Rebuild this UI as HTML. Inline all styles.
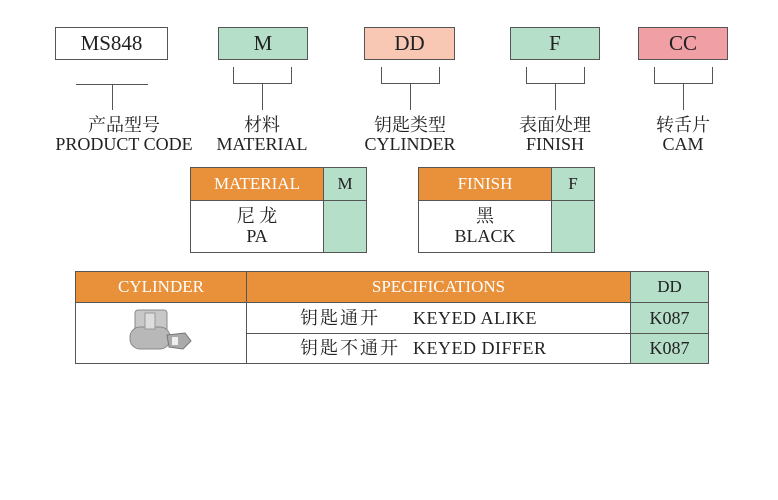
<!DOCTYPE html>
<html><head><meta charset="utf-8"><style>
body{margin:0;width:778px;height:500px;background:#fff;position:relative;overflow:hidden;font-family:"Liberation Serif","Noto Serif CJK SC",serif;color:#222}
.a{position:absolute;box-sizing:border-box}
.box{border:1px solid #555;font-size:21px;text-align:center;line-height:31px}
.ln{position:absolute;background:#555}
.lab{position:absolute;text-align:center;font-size:18px;line-height:19px;width:160px}
.oh{background:#e8913a;color:#fff;font-size:17px;text-align:center}
.g{background:#b5dfc8}
.cell{border:1px solid #555}
</style></head><body>
<div class="a box" style="left:55px;top:27px;width:113px;height:33px">MS848</div>
<div class="a box g" style="left:218px;top:27px;width:90px;height:33px">M</div>
<div class="a box" style="left:364px;top:27px;width:91px;height:33px;background:#f8c8b5">DD</div>
<div class="a box g" style="left:510px;top:27px;width:90px;height:33px">F</div>
<div class="a box" style="left:638px;top:27px;width:90px;height:33px;background:#f0a0a5">CC</div>

<div class="ln" style="left:76px;top:84px;width:72px;height:1px"></div>
<div class="ln" style="left:112px;top:84px;width:1px;height:26px"></div>

<div class="ln" style="left:233px;top:67px;width:1px;height:17px"></div>
<div class="ln" style="left:291px;top:67px;width:1px;height:17px"></div>
<div class="ln" style="left:233px;top:83px;width:59px;height:1px"></div>
<div class="ln" style="left:262px;top:83px;width:1px;height:27px"></div>

<div class="ln" style="left:381px;top:67px;width:1px;height:17px"></div>
<div class="ln" style="left:439px;top:67px;width:1px;height:17px"></div>
<div class="ln" style="left:381px;top:83px;width:59px;height:1px"></div>
<div class="ln" style="left:410px;top:83px;width:1px;height:27px"></div>

<div class="ln" style="left:526px;top:67px;width:1px;height:17px"></div>
<div class="ln" style="left:584px;top:67px;width:1px;height:17px"></div>
<div class="ln" style="left:526px;top:83px;width:59px;height:1px"></div>
<div class="ln" style="left:555px;top:83px;width:1px;height:27px"></div>

<div class="ln" style="left:654px;top:67px;width:1px;height:17px"></div>
<div class="ln" style="left:712px;top:67px;width:1px;height:17px"></div>
<div class="ln" style="left:654px;top:83px;width:59px;height:1px"></div>
<div class="ln" style="left:683px;top:83px;width:1px;height:27px"></div>

<div class="lab" style="left:44px;top:116px">产品型号<br>PRODUCT CODE</div>
<div class="lab" style="left:182px;top:116px">材料<br>MATERIAL</div>
<div class="lab" style="left:330px;top:116px">钥匙类型<br>CYLINDER</div>
<div class="lab" style="left:475px;top:116px">表面处理<br>FINISH</div>
<div class="lab" style="left:603px;top:116px">转舌片<br>CAM</div>

<div class="a cell" style="left:190px;top:167px;width:177px;height:86px"></div>
<div class="a oh" style="left:191px;top:168px;width:132px;height:32px;line-height:32px">MATERIAL</div>
<div class="a g" style="left:323px;top:168px;width:43px;height:84px;border-left:1px solid #555;text-align:center;font-size:17px;line-height:32px">M</div>
<div class="ln" style="left:190px;top:200px;width:177px;height:1px"></div>
<div class="a" style="left:191px;top:206px;width:132px;text-align:center;font-size:18px;line-height:20px">尼 龙<br>PA</div>

<div class="a cell" style="left:418px;top:167px;width:177px;height:86px"></div>
<div class="a oh" style="left:419px;top:168px;width:132px;height:32px;line-height:32px">FINISH</div>
<div class="a g" style="left:551px;top:168px;width:43px;height:84px;border-left:1px solid #555;text-align:center;font-size:17px;line-height:32px">F</div>
<div class="ln" style="left:418px;top:200px;width:177px;height:1px"></div>
<div class="a" style="left:419px;top:206px;width:132px;text-align:center;font-size:18px;line-height:20px">黑<br>BLACK</div>

<div class="a cell" style="left:75px;top:271px;width:634px;height:93px"></div>
<div class="a oh" style="left:76px;top:272px;width:170px;height:30px;line-height:30px">CYLINDER</div>
<div class="a oh" style="left:247px;top:272px;width:383px;height:30px;line-height:30px">SPECIFICATIONS</div>
<div class="ln" style="left:246px;top:271px;width:1px;height:93px"></div>
<div class="a g" style="left:630px;top:272px;width:78px;height:91px;border-left:1px solid #555"></div>
<div class="ln" style="left:75px;top:302px;width:634px;height:1px"></div>
<div class="ln" style="left:246px;top:333px;width:463px;height:1px"></div>
<div class="a" style="left:631px;top:272px;width:77px;text-align:center;font-size:17px;line-height:30px">DD</div>
<div class="a" style="left:631px;top:303px;width:77px;text-align:center;font-size:18px;line-height:30px">K087</div>
<div class="a" style="left:631px;top:334px;width:77px;text-align:center;font-size:18px;line-height:29px">K087</div>
<div class="a" style="left:300px;top:303px;font-size:18px;line-height:30px;letter-spacing:2px">钥匙通开</div>
<div class="a" style="left:413px;top:303px;font-size:18px;line-height:30px;letter-spacing:0.5px">KEYED ALIKE</div>
<div class="a" style="left:300px;top:334px;font-size:18px;line-height:29px;letter-spacing:2px">钥匙不通开</div>
<div class="a" style="left:413px;top:334px;font-size:18px;line-height:29px;letter-spacing:0.5px">KEYED DIFFER</div>

<svg class="a" style="left:125px;top:305px" width="70" height="55" viewBox="0 0 70 55">
<rect x="10" y="5" width="32" height="26" rx="3" fill="#c8c8c8" stroke="#888"/>
<rect x="5" y="22" width="40" height="22" rx="10" fill="#b8b8b8" stroke="#888"/>
<rect x="20" y="8" width="10" height="16" fill="#ddd" stroke="#999"/>
<path d="M42 30 L60 28 L66 36 L58 44 L44 42 Z" fill="#aaa" stroke="#777"/>
<rect x="47" y="32" width="6" height="8" fill="#eee"/>
</svg>
</body></html>
